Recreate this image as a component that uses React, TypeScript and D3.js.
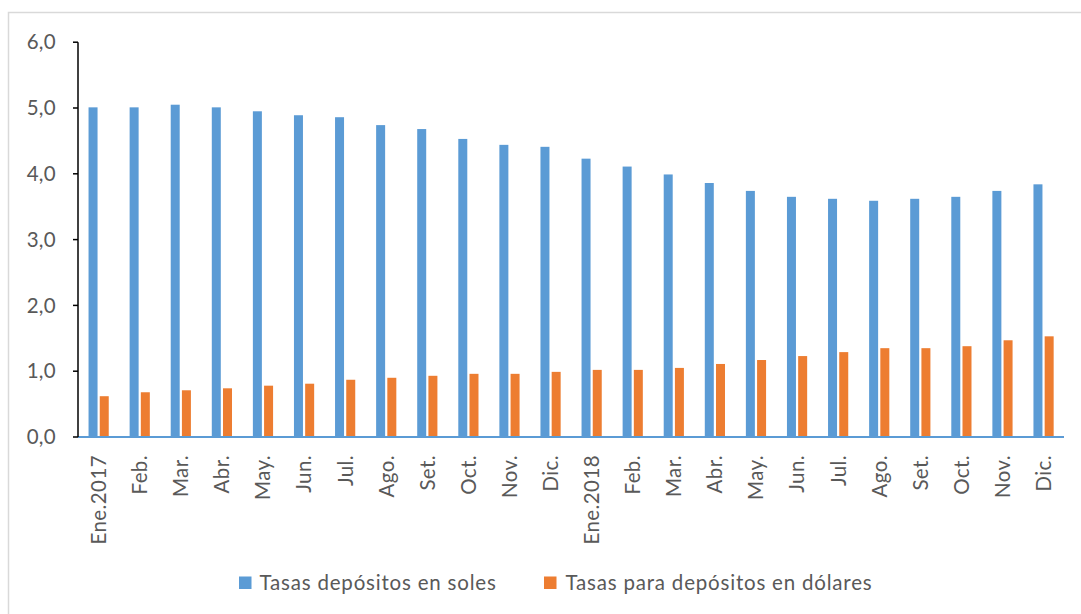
import React from 'react';
import * as d3 from 'd3';

const categories = ['Ene.2017','Feb.','Mar.','Abr.','May.','Jun.','Jul.','Ago.','Set.','Oct.','Nov.','Dic.','Ene.2018','Feb.','Mar.','Abr.','May.','Jun.','Jul.','Ago.','Set.','Oct.','Nov.','Dic.'];
const soles = [5.01,5.01,5.05,5.01,4.95,4.89,4.86,4.74,4.68,4.53,4.44,4.41,4.23,4.11,3.99,3.86,3.74,3.65,3.62,3.59,3.62,3.65,3.74,3.84];
const dolares = [0.62,0.68,0.71,0.74,0.78,0.81,0.87,0.90,0.93,0.96,0.96,0.99,1.02,1.02,1.05,1.11,1.17,1.23,1.29,1.35,1.35,1.38,1.47,1.53];
const yTicks = [0,1,2,3,4,5,6];
const seriesNames = ['Tasas depósitos en soles','Tasas para depósitos en dólares'];
const colors = ['#5B9BD5','#ED7D31'];

const W = 1081, H = 614;
const FONT = 'Lato, "Open Sans", sans-serif';
const TXT = '#595959';

export default function App() {
  const keys = categories.map((_, i) => String(i));
  const x = d3.scaleBand().domain(keys).range([78, 1064]).padding(0);
  const y = d3.scaleLinear().domain([0, 6]).range([437, 42.2]);
  const bw = 9;
  const fmt = (v: number) => d3.format('.1f')(v).replace('.', ',');
  return (
    <svg width={W} height={H} style={{ position: 'absolute', left: 0, top: 0, background: '#fff' }} fontFamily={FONT}>
      <rect x={8.5} y={12.5} width={W} height={H} fill="#fff" stroke="#d9d9d9" strokeWidth={1.5} />
      {soles.map((v, i) => {
        const c = x(String(i))! + x.bandwidth() / 2;
        return <rect key={'s' + i} x={c - 10} y={y(v)} width={bw} height={y(0) - y(v)} fill={colors[0]} />;
      })}
      {dolares.map((v, i) => {
        const c = x(String(i))! + x.bandwidth() / 2;
        return <rect key={'d' + i} x={c + 1.2} y={y(v)} width={bw} height={y(0) - y(v)} fill={colors[1]} />;
      })}
      <line x1={78} x2={1064} y1={y(0)} y2={y(0)} stroke={colors[0]} strokeWidth={2} />
      <line x1={78} x2={78} y1={y(6)} y2={y(0)} stroke="#000" strokeWidth={1.5} />
      {yTicks.map(t => (
        <g key={t}>
          <line x1={73} x2={78} y1={y(t)} y2={y(t)} stroke="#000" strokeWidth={1.5} />
          <text x={56} y={y(t)} dy="0.35em" textAnchor="end" fontSize={20.5} letterSpacing={0.3} fill={TXT}>{fmt(t)}</text>
        </g>
      ))}
      {categories.map((c, i) => {
        const cx = x(String(i))! + x.bandwidth() / 2;
        return (
          <text key={'x' + i} transform={`translate(${cx + 7.5},455) rotate(-90)`} textAnchor="end" fontSize={20.5} letterSpacing={0.4} fill={TXT}>{c}</text>
        );
      })}
      <rect x={239} y={576.5} width={12.5} height={12.5} fill={colors[0]} />
      <text x={259.5} y={583} dy="0.35em" fontSize={20.5} letterSpacing={0.8} fill={TXT}>{seriesNames[0]}</text>
      <rect x={544} y={576.5} width={12.5} height={12.5} fill={colors[1]} />
      <text x={565.5} y={583} dy="0.35em" fontSize={20.5} letterSpacing={0.8} fill={TXT}>{seriesNames[1]}</text>
    </svg>
  );
}
